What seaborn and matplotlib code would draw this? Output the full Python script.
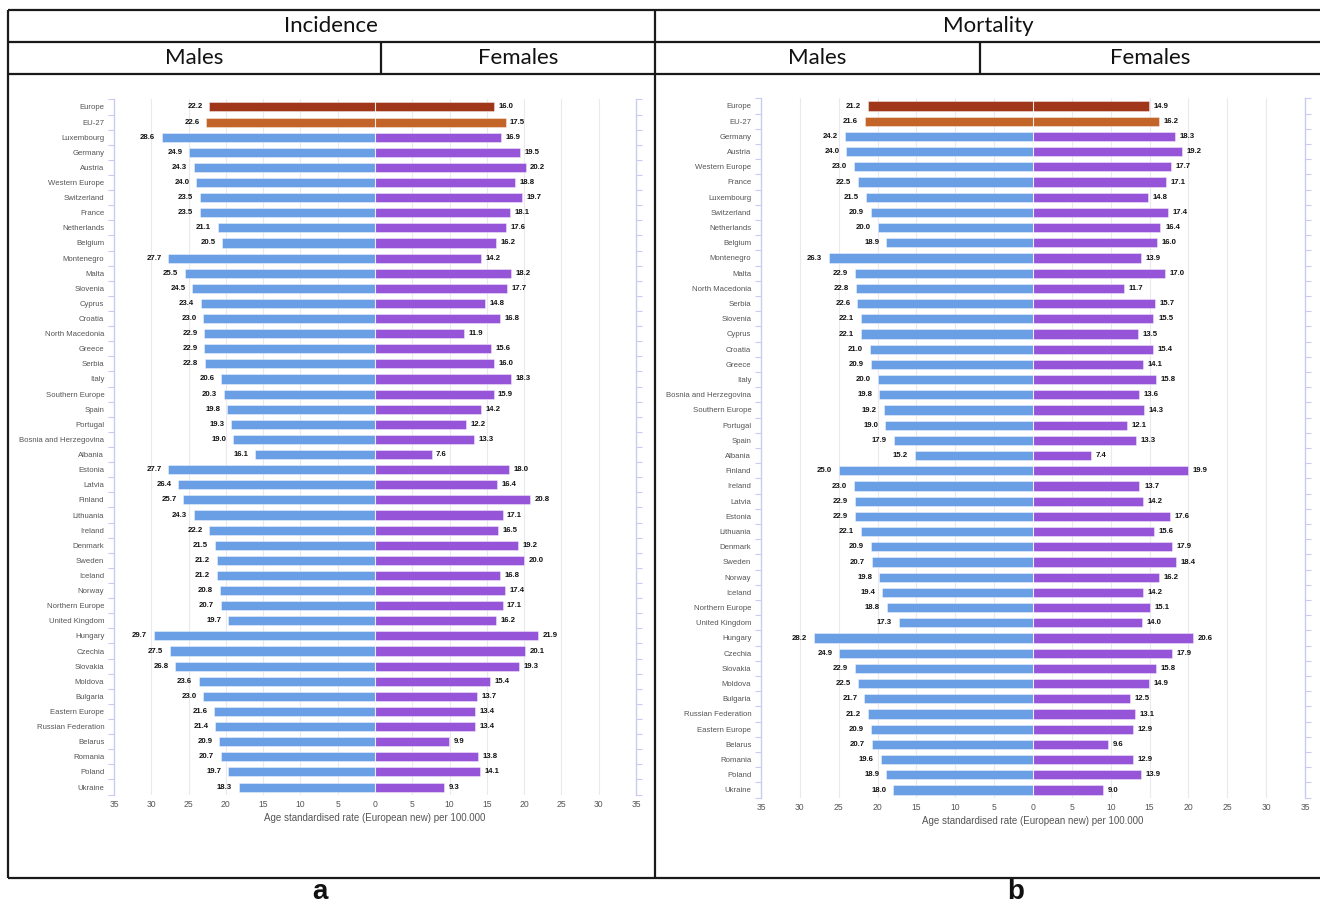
import numpy as np
import pandas as pd
import matplotlib
matplotlib.use("Agg")
import matplotlib.pyplot as plt
from matplotlib.lines import Line2D
import seaborn as sns

# ---------------- data ----------------
inc_countries = ["Europe", "EU-27", "Luxembourg", "Germany", "Austria", "Western Europe", "Switzerland",
                 "France", "Netherlands", "Belgium", "Montenegro", "Malta", "Slovenia", "Cyprus", "Croatia",
                 "North Macedonia", "Greece", "Serbia", "Italy", "Southern Europe", "Spain", "Portugal",
                 "Bosnia and Herzegovina", "Albania", "Estonia", "Latvia", "Finland", "Lithuania", "Ireland",
                 "Denmark", "Sweden", "Iceland", "Norway", "Northern Europe", "United Kingdom", "Hungary",
                 "Czechia", "Slovakia", "Moldova", "Bulgaria", "Eastern Europe", "Russian Federation",
                 "Belarus", "Romania", "Poland", "Ukraine"]
inc_males = [22.2, 22.6, 28.6, 24.9, 24.3, 24.0, 23.5, 23.5, 21.1, 20.5,
             27.7, 25.5, 24.5, 23.4, 23.0, 22.9, 22.9, 22.8, 20.6, 20.3,
             19.8, 19.3, 19.0, 16.1,
             27.7, 26.4, 25.7, 24.3, 22.2, 21.5, 21.2, 21.2, 20.8, 20.7, 19.7,
             29.7, 27.5, 26.8, 23.6, 23.0, 21.6, 21.4, 20.9, 20.7, 19.7, 18.3]
inc_females = [16.0, 17.5, 16.9, 19.5, 20.2, 18.8, 19.7, 18.1, 17.6, 16.2,
               14.2, 18.2, 17.7, 14.8, 16.8, 11.9, 15.6, 16.0, 18.3, 15.9,
               14.2, 12.2, 13.3, 7.6,
               18.0, 16.4, 20.8, 17.1, 16.5, 19.2, 20.0, 16.8, 17.4, 17.1, 16.2,
               21.9, 20.1, 19.3, 15.4, 13.7, 13.4, 13.4, 9.9, 13.8, 14.1, 9.3]

mort_countries = ["Europe", "EU-27", "Germany", "Austria", "Western Europe", "France", "Luxembourg",
                  "Switzerland", "Netherlands", "Belgium", "Montenegro", "Malta", "North Macedonia", "Serbia",
                  "Slovenia", "Cyprus", "Croatia", "Greece", "Italy", "Bosnia and Herzegovina",
                  "Southern Europe", "Portugal", "Spain", "Albania", "Finland", "Ireland", "Latvia", "Estonia",
                  "Lithuania", "Denmark", "Sweden", "Norway", "Iceland", "Northern Europe", "United Kingdom",
                  "Hungary", "Czechia", "Slovakia", "Moldova", "Bulgaria", "Russian Federation",
                  "Eastern Europe", "Belarus", "Romania", "Poland", "Ukraine"]
mort_males = [21.2, 21.6, 24.2, 24.0, 23.0, 22.5, 21.5, 20.9, 20.0, 18.9,
              26.3, 22.9, 22.8, 22.6, 22.1, 22.1, 21.0, 20.9, 20.0, 19.8,
              19.2, 19.0, 17.9, 15.2,
              25.0, 23.0, 22.9, 22.9, 22.1, 20.9, 20.7, 19.8, 19.4, 18.8, 17.3,
              28.2, 24.9, 22.9, 22.5, 21.7, 21.2, 20.9, 20.7, 19.6, 18.9, 18.0]
mort_females = [14.9, 16.2, 18.3, 19.2, 17.7, 17.1, 14.8, 17.4, 16.4, 16.0,
                13.9, 17.0, 11.7, 15.7, 15.5, 13.5, 15.4, 14.1, 15.8, 13.6,
                14.3, 12.1, 13.3, 7.4,
                19.9, 13.7, 14.2, 17.6, 15.6, 17.9, 18.4, 16.2, 14.2, 15.1, 14.0,
                20.6, 17.9, 15.8, 14.9, 12.5, 13.1, 12.9, 9.6, 12.9, 13.9, 9.0]

x_ticks = [-35, -30, -25, -20, -15, -10, -5, 0, 5, 10, 15, 20, 25, 30, 35]
x_label = "Age standardised rate (European new) per 100.000"

palette = {"Europe": "#a0371a", "EU-27": "#c36428", "Males": "#6a9fe6", "Females": "#9654d8"}

# ---------------- style ----------------
sns.set_style("white")
plt.rcParams["font.family"] = ["Liberation Sans", "DejaVu Sans"]

W, H = 1320, 907
fig = plt.figure(figsize=(W / 100, H / 100), dpi=100)


def fx(px):
    return px / W


def fy(py):
    return 1 - py / H


def add_line(x0, y0, x1, y1, lw=1.6):
    fig.add_artist(Line2D([fx(x0), fx(x1)], [fy(y0), fy(y1)], transform=fig.transFigure,
                          color="#1a1a1a", lw=lw, solid_capstyle="butt"))


def draw_panel(rect_px, countries, males, females):
    l, t, r, b = rect_px
    ax = fig.add_axes([fx(l), fy(b), fx(r) - fx(l), (b - t) / H])
    groups = [c if c in ("Europe", "EU-27") else None for c in countries]
    df_m = pd.DataFrame({"country": countries, "value": [-v for v in males],
                         "group": [g if g else "Males" for g in groups]})
    df_f = pd.DataFrame({"country": countries, "value": females,
                         "group": [g if g else "Females" for g in groups]})
    for d in (df_m, df_f):
        sns.barplot(data=d, x="value", y="country", hue="group", order=countries,
                    palette=palette, saturation=1, dodge=False, width=0.6, errorbar=None,
                    legend=False, edgecolor=(1, 1, 1, 0.45), linewidth=0.6, ax=ax, zorder=2)
    for i, (m, f) in enumerate(zip(males, females)):
        ax.text(-m - 0.9, i, f"{m:.1f}", ha="right", va="center", fontsize=5.6,
                fontweight="bold", color="#111111")
        ax.text(f + 0.6, i, f"{f:.1f}", ha="left", va="center", fontsize=5.6,
                fontweight="bold", color="#111111")
    ax.axvline(0, color="white", lw=0.8, alpha=0.7, zorder=3)
    for xv in x_ticks[1:-1]:
        ax.axvline(xv, color="#e9e9ef", lw=0.8, zorder=0)
    ax.set_xlim(-35, 35)
    ax.set_ylim(len(countries) - 0.5, -0.5)
    ax.set_xticks(x_ticks)
    ax.set_xticklabels([str(abs(v)) for v in x_ticks])
    ax.set_yticks(range(len(countries)))
    ax.set_yticklabels(countries)
    ax.set_yticks(np.arange(len(countries) + 1) - 0.5, minor=True)
    ax.tick_params(axis="y", which="major", length=0, pad=7, labelsize=5.6, labelcolor="#555555")
    ax.tick_params(axis="y", which="minor", length=4, width=0.8, color="#c9cbf2",
                   left=True, right=True, direction="out")
    ax.tick_params(axis="x", length=0, pad=4, labelsize=6.2, labelcolor="#555555")
    ax.set_xlabel(x_label, fontsize=7, color="#555555", labelpad=3)
    ax.set_ylabel("")
    for s in ("top", "bottom"):
        ax.spines[s].set_visible(False)
    for s in ("left", "right"):
        ax.spines[s].set_visible(True)
        ax.spines[s].set_color("#c9cbf2")
        ax.spines[s].set_linewidth(1.0)
    ax.grid(False)
    return ax


draw_panel((114, 99.4, 636, 794.6), inc_countries, inc_males, inc_females)
draw_panel((761, 98.4, 1305, 797.6), mort_countries, mort_males, mort_females)

# ---------------- header table ----------------
add_line(8, 10, 1320, 10)
add_line(8, 42, 1320, 42)
add_line(8, 74, 1320, 74)
add_line(8, 878, 1320, 878)
add_line(8, 10, 8, 878)
add_line(655, 10, 655, 878)
add_line(381, 42, 381, 74)
add_line(980, 42, 980, 74)

hdr = dict(ha="center", va="center", fontsize=16, color="#111111", family=["Lato", "DejaVu Sans"])
fig.text(fx(331), fy(26), "Incidence", **hdr)
fig.text(fx(988), fy(26), "Mortality", **hdr)
fig.text(fx(194), fy(58.5), "Males", **hdr)
fig.text(fx(518), fy(58.5), "Females", **hdr)
fig.text(fx(817), fy(58.5), "Males", **hdr)
fig.text(fx(1150), fy(58.5), "Females", **hdr)

fig.text(fx(320), fy(892), "a", ha="center", va="center", fontsize=20, fontweight="bold", color="#111111")
fig.text(fx(1016), fy(892), "b", ha="center", va="center", fontsize=20, fontweight="bold", color="#111111")

fig.savefig("out.png", dpi=100, facecolor="white")
